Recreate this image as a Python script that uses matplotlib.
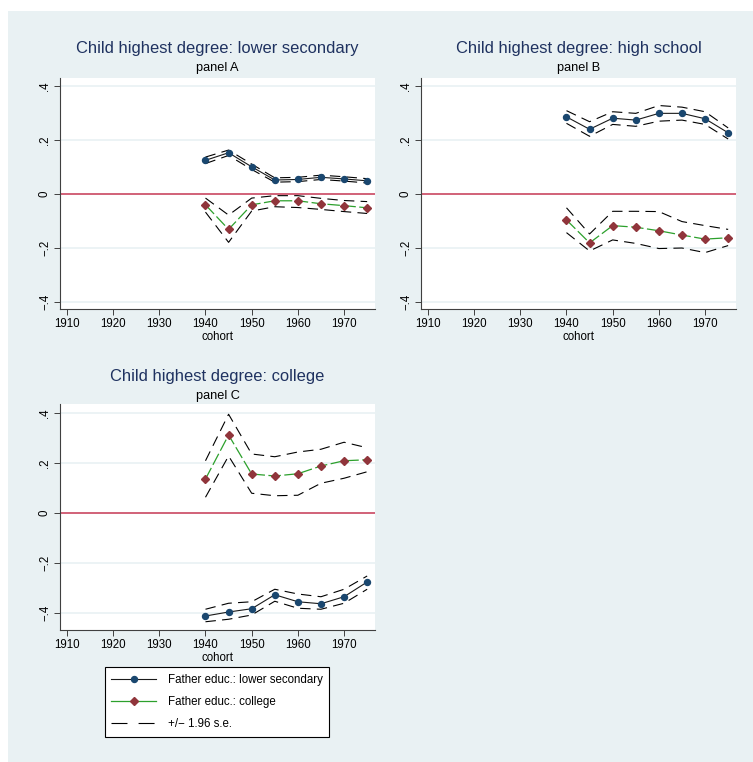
import numpy as np
import matplotlib
matplotlib.use("Agg")
import matplotlib.pyplot as plt
from matplotlib.lines import Line2D

plt.rcParams["font.family"] = ["Liberation Sans", "DejaVu Sans"]
plt.rcParams["lines.scale_dashes"] = False

cohort = [1940, 1945, 1950, 1955, 1960, 1965, 1970, 1975]

# panel A: child highest degree lower secondary
a_sec    = [0.125, 0.153, 0.101, 0.052, 0.054, 0.062, 0.056, 0.049]
a_sec_hi = [0.137, 0.163, 0.111, 0.060, 0.062, 0.070, 0.064, 0.057]
a_sec_lo = [0.113, 0.143, 0.091, 0.044, 0.046, 0.054, 0.048, 0.041]
a_col    = [-0.040, -0.131, -0.040, -0.025, -0.025, -0.036, -0.043, -0.051]
a_col_hi = [-0.015, -0.078, -0.015, -0.006, -0.006, -0.016, -0.024, -0.028]
a_col_lo = [-0.067, -0.179, -0.063, -0.047, -0.050, -0.057, -0.065, -0.072]

# panel B: high school
b_sec    = [0.286, 0.240, 0.281, 0.274, 0.299, 0.299, 0.279, 0.227]
b_sec_hi = [0.309, 0.268, 0.305, 0.299, 0.328, 0.322, 0.305, 0.245]
b_sec_lo = [0.262, 0.214, 0.258, 0.251, 0.270, 0.274, 0.258, 0.204]
b_col    = [-0.096, -0.181, -0.117, -0.123, -0.136, -0.152, -0.167, -0.162]
b_col_hi = [-0.051, -0.148, -0.064, -0.064, -0.065, -0.102, -0.117, -0.131]
b_col_lo = [-0.143, -0.211, -0.170, -0.183, -0.202, -0.200, -0.217, -0.191]

# panel C: college
c_sec    = [-0.412, -0.396, -0.383, -0.327, -0.355, -0.363, -0.335, -0.276]
c_sec_hi = [-0.385, -0.361, -0.355, -0.305, -0.324, -0.335, -0.305, -0.252]
c_sec_lo = [-0.435, -0.425, -0.408, -0.353, -0.381, -0.385, -0.361, -0.305]
c_col    = [0.136, 0.312, 0.156, 0.148, 0.157, 0.188, 0.209, 0.213]
c_col_hi = [0.209, 0.395, 0.236, 0.225, 0.244, 0.255, 0.283, 0.261]
c_col_lo = [0.063, 0.228, 0.079, 0.069, 0.071, 0.119, 0.139, 0.165]

xticks = [1910, 1920, 1930, 1940, 1950, 1960, 1970]
yticks = [-0.4, -0.2, 0, 0.2, 0.4]
ytick_labels = ["\u2212.4", "\u2212.2", "0", ".2", ".4"]

BG = "#E9F1F3"
NAVY = "#1A476F"
MAROON = "#90353B"
GREEN = "#2CA02C"
TITLE = "#1F3260"
W, H = 753, 762
FS = 8.3

fig = plt.figure(figsize=(W / 100, H / 100), dpi=100)
fig.patch.set_facecolor("white")
# light graph region (white strip at top and left)
fig.patches.append(plt.Rectangle((8 / W, 0), 1, 1 - 11 / H, transform=fig.transFigure,
                                 facecolor=BG, edgecolor="none", zorder=-10))


def px_axes(x0, y0, x1, y1):
    return fig.add_axes([x0 / W, 1 - y1 / H, (x1 - x0) / W, (y1 - y0) / H])


def draw_panel(ax, sec, sec_hi, sec_lo, col, col_hi, col_lo, ylim):
    ax.set_facecolor("white")
    for yt in yticks:
        ax.axhline(yt, color=BG, lw=1.2, zorder=0)
    ax.axhline(0, color="#D0566E", lw=1.3, zorder=1)
    for band in (sec_hi, sec_lo, col_hi, col_lo):
        ax.plot(cohort, band, color="black", lw=0.8, dashes=(7.5, 4.5), zorder=2)
    ax.plot(cohort, sec, color="#1a1a1a", lw=0.8, marker="o", ms=4.3,
            mfc=NAVY, mec=NAVY, zorder=3)
    ax.plot(cohort, col, color=GREEN, lw=0.9, dashes=(9, 2.5), marker="D", ms=4.4,
            mfc=MAROON, mec=MAROON, zorder=3)
    ax.set_xlim(1908.5, 1976.7)
    ax.set_ylim(*ylim)
    ax.set_xticks(xticks)
    ax.set_yticks(yticks)
    ax.set_yticklabels(ytick_labels, rotation=90, va="center")
    ax.tick_params(direction="out", length=4, width=0.7, color="#404040",
                   labelsize=FS, pad=2.5)
    for s in ("top", "right"):
        ax.spines[s].set_visible(False)
    for s in ("left", "bottom"):
        ax.spines[s].set_color("#404040")
        ax.spines[s].set_linewidth(0.8)
    ax.set_xlabel("cohort", fontsize=FS, labelpad=1)


axA = px_axes(60, 78, 375, 309)
draw_panel(axA, a_sec, a_sec_hi, a_sec_lo, a_col, a_col_hi, a_col_lo, (-0.426, 0.43))
axB = px_axes(421, 78, 736, 309)
draw_panel(axB, b_sec, b_sec_hi, b_sec_lo, b_col, b_col_hi, b_col_lo, (-0.426, 0.43))
axC = px_axes(60, 404, 375, 630)
draw_panel(axC, c_sec, c_sec_hi, c_sec_lo, c_col, c_col_hi, c_col_lo, (-0.468, 0.436))

titles = [
    (217.5, 49, 68, "Child highest degree: lower secondary", "panel A"),
    (578.5, 49, 68, "Child highest degree: high school", "panel B"),
    (217.5, 377, 396, "Child highest degree: college", "panel C"),
]
for x, ty, sy, t, s in titles:
    fig.text(x / W, 1 - ty / H, t, ha="center", va="center", fontsize=11.9, color=TITLE)
    fig.text(x / W, 1 - sy / H, s, ha="center", va="center", fontsize=9.2, color="black")

handles = [
    Line2D([], [], color="#1a1a1a", lw=0.8, marker="o", ms=4.3, mfc=NAVY, mec=NAVY),
    Line2D([], [], color=GREEN, lw=0.9, marker="D", ms=4.4, mfc=MAROON, mec=MAROON),
    Line2D([], [], color="black", lw=0.8, dashes=(11.5, 8)),
]
labels = ["Father educ.: lower secondary", "Father educ.: college", "+/\u2212 1.96 s.e."]
leg = fig.legend(handles, labels, loc="center", bbox_to_anchor=(217 / W, 1 - 702 / H),
                 fontsize=FS, handlelength=3.9, handletextpad=1.0, labelspacing=0.9,
                 borderpad=0.55, borderaxespad=0, fancybox=False, framealpha=1)
leg.get_frame().set_edgecolor("black")
leg.get_frame().set_linewidth(0.8)

fig.savefig("out.png", dpi=100)
